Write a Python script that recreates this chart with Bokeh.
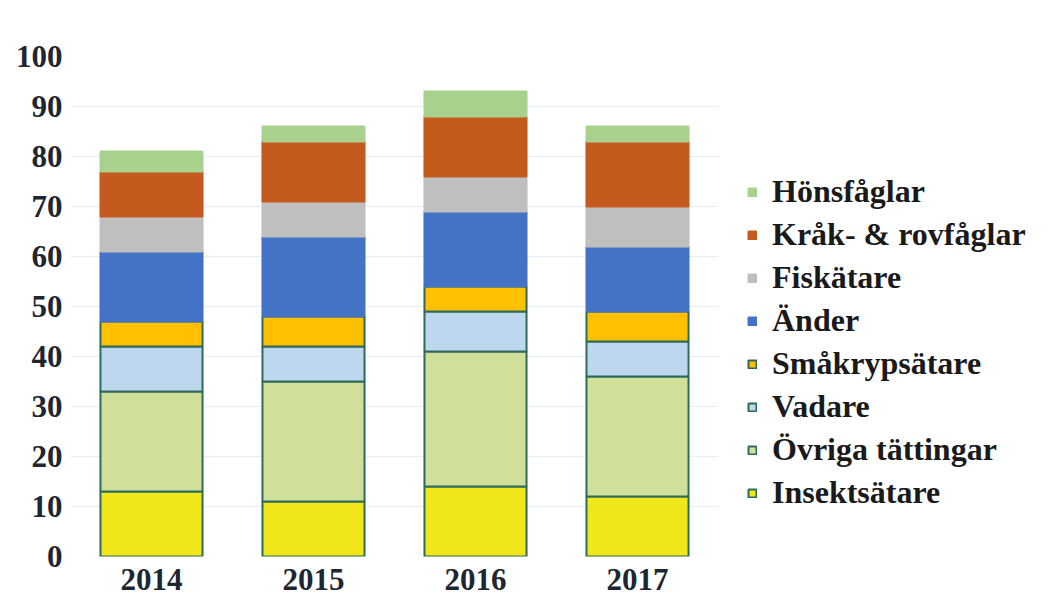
from bokeh.plotting import figure
from bokeh.models import ColumnDataSource, Legend, LegendItem, FactorRange, FixedTicker
from bokeh.embed import file_html
from bokeh.resources import INLINE

years = ["2014", "2015", "2016", "2017"]
series = ["Insektsätare", "Övriga tättingar", "Vadare", "Småkrypsätare",
          "Änder", "Fiskätare", "Kråk- & rovfåglar", "Hönsfåglar"]
insektsatare = [13, 11, 14, 12]
ovriga_tattingar = [20, 24, 27, 24]
vadare = [9, 7, 8, 7]
smakrypsatare = [5, 6, 5, 6]
ander = [14, 16, 15, 13]
fiskatare = [7, 7, 7, 8]
krak_rovfaglar = [9, 12, 12, 13]
honsfaglar = [4, 3, 5, 3]
y_ticks = [0, 10, 20, 30, 40, 50, 60, 70, 80, 90, 100]

colors = ["#F0E61A", "#D0E09A", "#BDD7EE", "#FFC000",
          "#4472C4", "#BFBFBF", "#C55A1E", "#A9D18E"]
outline = "#2E6A5A"
line_colors = [outline, outline, outline, outline] + colors[4:]

keys = ["s%d" % i for i in range(8)]
data = {"year": years}
for k, vals in zip(keys, [insektsatare, ovriga_tattingar, vadare, smakrypsatare,
                          ander, fiskatare, krak_rovfaglar, honsfaglar]):
    data[k] = vals
source = ColumnDataSource(data)

p = figure(x_range=FactorRange(*years), y_range=(0, 100),
           frame_width=648, frame_height=500, output_backend="svg", toolbar_location=None,
           min_border_left=70, min_border_right=0, min_border_top=56,
           min_border_bottom=42)

rs = p.vbar_stack(keys, x="year", width=0.63, source=source,
                  fill_color=colors, line_color=line_colors, line_width=2)

p.outline_line_color = None
p.xgrid.grid_line_color = None
p.ygrid.grid_line_color = "#E6EEF5"
p.ygrid.grid_line_width = 1
p.yaxis.ticker = FixedTicker(ticks=y_ticks)
for ax in (p.xaxis, p.yaxis):
    ax.axis_line_color = None
    ax.major_tick_line_color = None
    ax.minor_tick_line_color = None
    ax.major_label_text_font = "Liberation Serif"
    ax.major_label_text_font_style = "bold"
    ax.major_label_text_color = "#1E2630"
p.yaxis.major_label_text_font_size = "31px"
p.xaxis.major_label_text_font_size = "31px"
p.yaxis.major_label_standoff = 2
p.xaxis.major_label_standoff = 6

items = [LegendItem(label=name, renderers=[r]) for name, r in zip(series, rs)]
items.reverse()
legend = Legend(items=items, location=(29, 45),
                label_text_font="Liberation Serif", label_text_font_style="bold",
                label_text_font_size="32px", label_text_color="#1A1A1A",
                glyph_width=10, glyph_height=10, label_height=33, spacing=6,
                label_standoff=15, border_line_color=None, background_fill_alpha=0,
                padding=0, margin=0)
p.add_layout(legend, "right")

open("out.html", "w").write(file_html(p, INLINE))
